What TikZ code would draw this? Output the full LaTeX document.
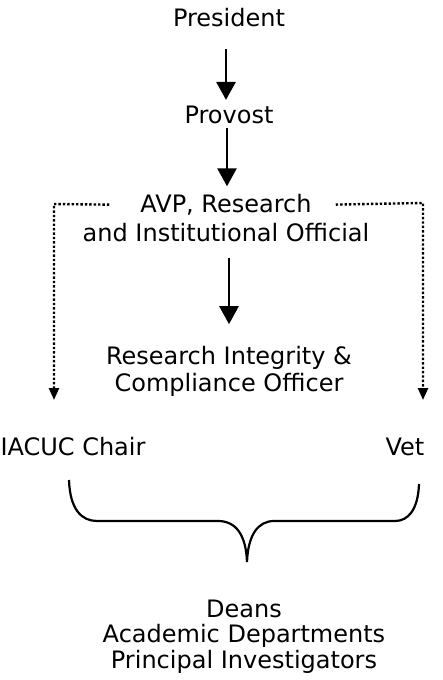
\documentclass[tikz,border=0pt]{standalone}
\usepackage{fontspec}
\setmainfont{DejaVu Sans}
\usetikzlibrary{arrows.meta}

\tikzset{
    lbl/.style={inner sep=0pt, font=\fontsize{24}{28}\selectfont},
    arr/.style={line width=2.8pt, -{Triangle[width=19pt,length=18pt]}},
    dotarr/.style={line width=2.4pt, dash pattern=on 2.4pt off 2pt,
        -{Triangle[width=10pt,length=12pt]}},
}

\begin{document}
\begin{tikzpicture}[x=1pt,y=-1pt]
    \useasboundingbox (0,0) rectangle (443,680);

    %names:
    \node[lbl] (pres) at (229,18) {President};
    \node[lbl] (prov) at (229,115) {Provost};
    \node[lbl] (avp1) at (226,205) {AVP, Research};
    \node[lbl] (avp2) at (226,233) {and Institutional Official};
    \node[lbl] (rio1) at (229,358) {Research Integrity \&};
    \node[lbl] (rio2) at (229,385) {Compliance Officer};
    \node[lbl] (iacuc) at (73,447) {IACUC Chair};
    \node[lbl] (vet) at (405,447) {Vet};
    \node[lbl] (deans) at (244,609) {Deans};
    \node[lbl] (depts) at (244,636) {Academic Departments};
    \node[lbl] (pis) at (244,662) {Principal Investigators};

    %solid arrows:
    \draw[arr, shorten <=22pt, shorten >=6pt] (pres.south -| 226,0) -- (prov.north -| 226,0);
    \draw[arr, shorten <=4pt, shorten >=8pt] (prov.south -| 227,0) -- (avp1.north -| 227,0);
    \draw[arr, shorten <=16pt, shorten >=22pt] (avp2.south -| 229,0) -- (rio1.north -| 229,0);

    %dotted arrows:
    \coordinate (lcorner) at (54,204);
    \coordinate (lend) at (54,400);
    \coordinate (rcorner) at (423,203);
    \coordinate (rend) at (423,400);
    \draw[dotarr, shorten <=31pt] (avp1.west) -- (lcorner) -- (lend);
    \draw[dotarr, shorten <=24pt] (avp1.east) -- (rcorner) -- (rend);

    %brace:
    \draw[line width=2.2pt] (69,480) .. controls (70,510) and (82,521) .. (97,521)
        -- (218,521) .. controls (236,521) and (246,535) .. (247,562)
        .. controls (248,535) and (258,521) .. (274,521)
        -- (395,521) .. controls (408,521) and (418,510) .. (419,484);

\end{tikzpicture}
\end{document}
